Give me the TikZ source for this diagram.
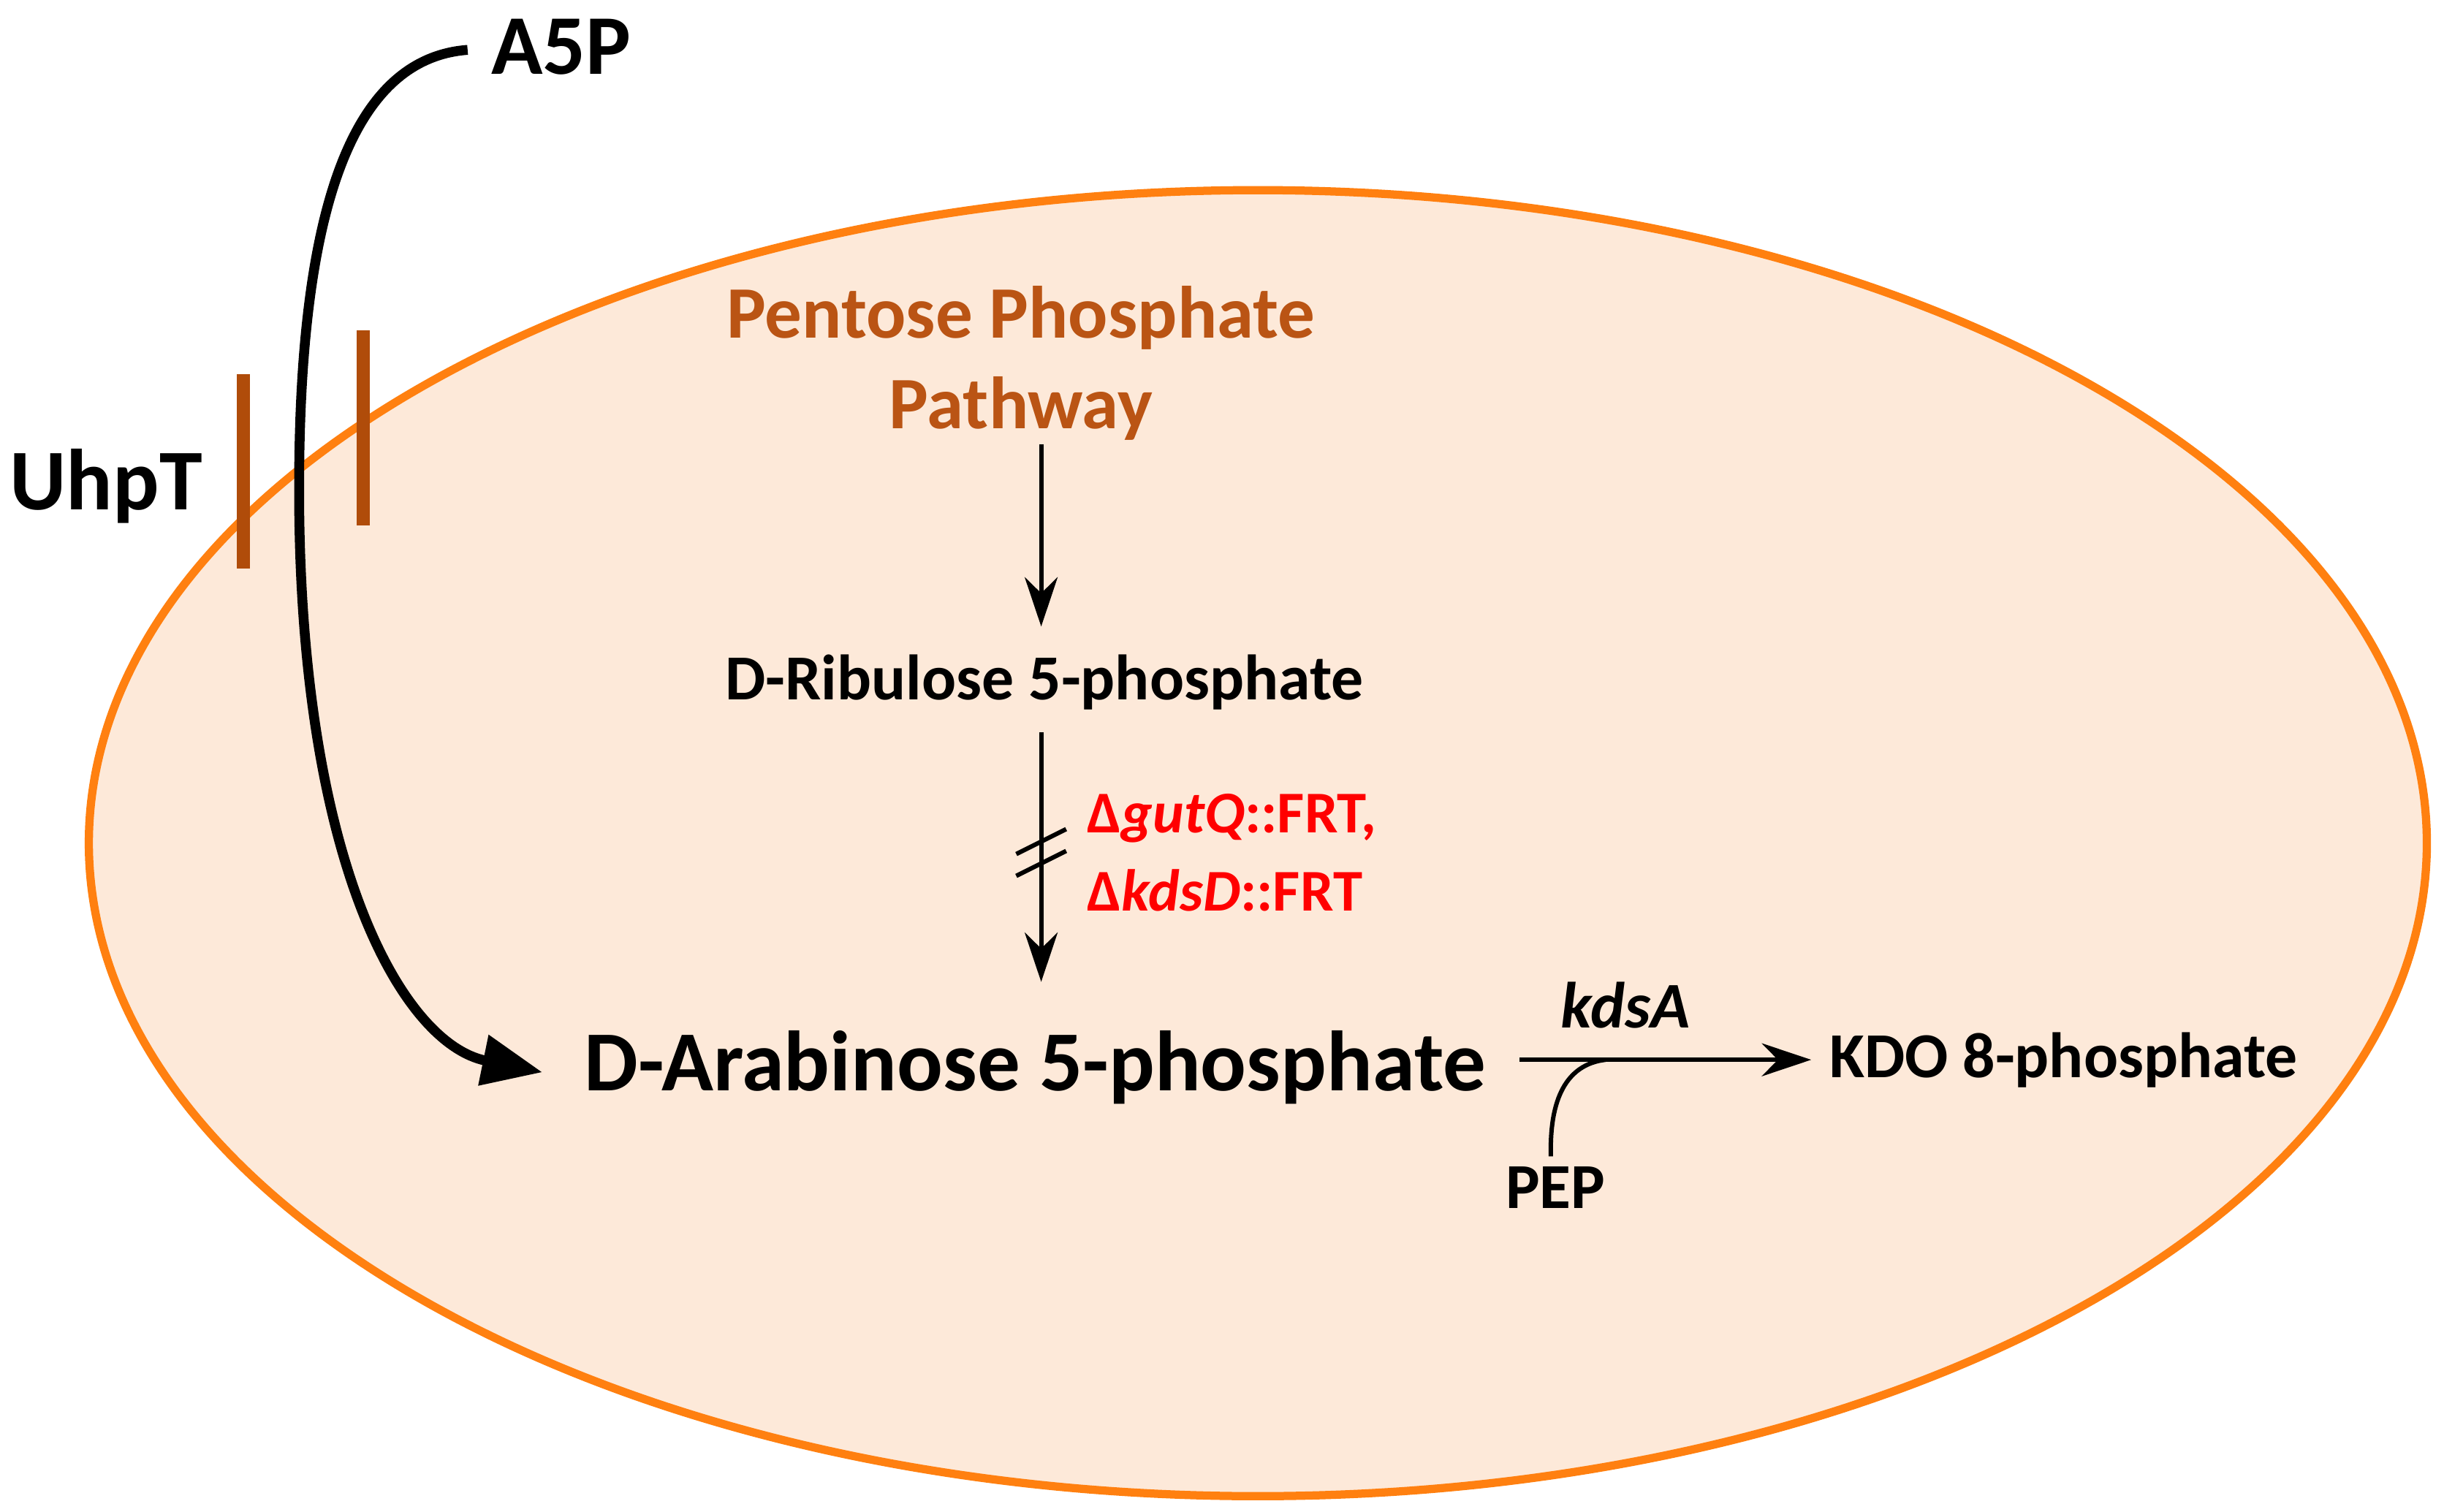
\documentclass[tikz,border=0pt]{standalone}
\usepackage{fontspec}
\setmainfont{Carlito}
\usetikzlibrary{arrows.meta}
\definecolor{cellfill}{RGB}{253,233,217}
\definecolor{cellline}{RGB}{255,128,16}
\definecolor{ppbrown}{RGB}{186,84,20}
\definecolor{barbrown}{RGB}{176,76,10}
\begin{document}
\begin{tikzpicture}[x=0.01cm,y=-0.01cm,
  lbl/.style={inner sep=0pt,font=\bfseries},
  arr/.style={-{Stealth[length=9pt,width=6pt]},line width=0.8pt},
  bar/.style={barbrown,line width=2.4pt}]
\useasboundingbox (0,0) rectangle (1568,970);
\draw[cellline,fill=cellfill,line width=1.5pt] (807,541) ellipse [x radius=750,y radius=419];
\node[lbl,font=\bfseries\fontsize{15.5}{18}\selectfont] (a5p) at (360,30) {A5P};
\node[lbl,font=\bfseries\fontsize{15.8}{18}\selectfont] (uhpt) at (68,312) {UhpT};
\draw[bar] (156,240) -- (156,365);
\draw[bar] (233,212) -- (233,337);
\node[lbl,text=ppbrown,align=center,font=\bfseries\fontsize{13.5}{16.5}\selectfont] (ppp) at (655,233) {Pentose Phosphate\\Pathway};
\node[lbl,font=\bfseries\fontsize{11.7}{14}\selectfont] (ru5p) at (670,438) {D-Ribulose 5-phosphate};
\node[lbl,font=\bfseries\fontsize{15.6}{18}\selectfont] (ara5p) at (664,685) {D-Arabinose 5-phosphate};
\node[lbl,font=\bfseries\fontsize{11.7}{14}\selectfont,anchor=west] (kdo) at (1173,680) {KDO 8-phosphate};
\node[lbl,font=\bfseries\fontsize{11.7}{14}\selectfont] (pep) at (998,762) {PEP};
\node[lbl,font=\bfseries\itshape\fontsize{11.9}{14}\selectfont] (kdsa) at (1043,645) {kdsA};
\node[lbl,text=red,anchor=west,align=left,font=\bfseries\fontsize{10.8}{14.2}\selectfont] (mut) at (697,547) {Δ\textit{gutQ}::FRT,\\Δ\textit{kdsD}::FRT};
\coordinate (c1) at (668,285); \coordinate (c2) at (668,402);
\draw[arr] (c1) -- (c2);
\coordinate (c3) at (668,470); \coordinate (c4) at (668,630);
\draw[arr] (c3) -- (c4);
\draw[line width=0.8pt] (652,548) -- (684,532) (652,562) -- (684,546);
\coordinate (k1) at (975,680); \coordinate (k2) at (1162,680);
\draw[arr] (k1) -- (k2);
\coordinate (p1) at (995,742);
\draw[line width=0.8pt] (p1) .. controls (994,705) and (1005,683) .. (1030,680);
\coordinate (s) at (300,32); \coordinate (e) at (348,688);
\draw[line width=1.8pt,-{Triangle[length=11pt,width=9pt]}] (s) .. controls (220,38) and (190,150) .. (192,330) .. controls (195,560) and (260,670) .. (e);
\end{tikzpicture}
\end{document}
